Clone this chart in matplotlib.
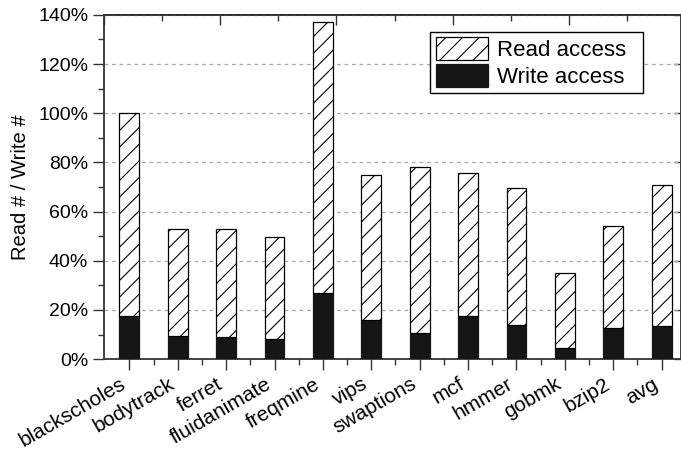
import numpy as np
import matplotlib
matplotlib.use("Agg")
import matplotlib.pyplot as plt
from matplotlib.ticker import PercentFormatter, MultipleLocator, FixedLocator
from matplotlib.patches import Patch

plt.rcParams['font.family'] = ['Liberation Sans', 'DejaVu Sans']
plt.rcParams['hatch.linewidth'] = 0.8

# values (percent)
benchmarks = ['blackscholes', 'bodytrack', 'ferret', 'fluidanimate', 'freqmine', 'vips',
              'swaptions', 'mcf', 'hmmer', 'gobmk', 'bzip2', 'avg']
write_pct = [17.5, 9.4, 8.8, 8.3, 26.7, 15.9, 10.7, 17.5, 13.8, 4.6, 12.7, 13.4]
read_pct = [82.5, 43.4, 44.2, 41.5, 110.2, 58.9, 67.3, 58.1, 55.7, 30.5, 41.6, 57.4]

x = np.arange(len(benchmarks))
w = 0.41

fig = plt.figure(figsize=(6.81, 4.5), dpi=100)
ax = fig.add_axes([0.153, 0.202, 0.847, 0.765])

ax.bar(x, write_pct, w, color='#151515', edgecolor='#151515', linewidth=0.9, zorder=3)
ax.bar(x, read_pct, w, bottom=write_pct, color='white', edgecolor='black',
       hatch='//', linewidth=0.9, zorder=3)

ax.set_xlim(-0.52, 11.40)
ax.set_ylim(0, 140)

ax.yaxis.set_major_locator(MultipleLocator(20))
ax.yaxis.set_minor_locator(MultipleLocator(10))
ax.yaxis.set_major_formatter(PercentFormatter(xmax=100, decimals=0))
ax.set_xticks(x)
ax.set_xticks(x[:-1] + 0.5, minor=True)
ax.set_xticklabels(benchmarks, rotation=30, ha='right', fontsize=15)

ax.tick_params(axis='both', which='major', direction='out', length=8, width=1,
               colors='#333333', labelcolor='black', right=False, top=False)
ax.tick_params(axis='y', which='major', labelsize=14)
ax.tick_params(axis='both', which='minor', direction='out', length=4, width=1,
               colors='#333333', right=False, top=False)
ax.tick_params(axis='x', which='major', pad=3)
ax.set_ylabel('Read # / Write #', fontsize=14.5, labelpad=6)

for s in ax.spines.values():
    s.set_linewidth(1.3)
    s.set_color('#333333')

ax.yaxis.grid(True, which='major', linestyle=(0, (3, 3)), color='#a8a8a8', linewidth=0.9, zorder=0)
ax.set_axisbelow(True)

# top axis (separate scale ticks, pointing in)
top = ax.secondary_xaxis('top')
top_pos = -0.52 + 1.2 * np.arange(0, 10)
top.xaxis.set_major_locator(FixedLocator(top_pos[::2]))
top.xaxis.set_minor_locator(FixedLocator(top_pos[1::2]))
top.tick_params(which='major', direction='in', length=7, width=1, colors='#333333', labeltop=False)
top.tick_params(which='minor', direction='in', length=4, width=1, colors='#333333')
top.spines['top'].set_linewidth(1.3)
top.spines['top'].set_color('#333333')

# right axis ticks pointing in
right = ax.secondary_yaxis('right')
right.yaxis.set_major_locator(MultipleLocator(20))
right.tick_params(direction='in', length=5, width=1, colors='#333333', labelright=False)

handles = [Patch(facecolor='white', edgecolor='black', hatch='//', linewidth=0.9),
           Patch(facecolor='#151515', edgecolor='#151515', linewidth=0.9)]
leg = ax.legend(handles, ['Read access', 'Write access'], loc='upper left',
                bbox_to_anchor=(0.565, 0.70, 0.369, 0.251), mode='expand',
                borderaxespad=0, fontsize=16,
                handlelength=2.35, handleheight=1.2, labelspacing=0.12,
                handletextpad=0.4, borderpad=0.25, fancybox=False, framealpha=1)
leg.get_frame().set_edgecolor('black')
leg.get_frame().set_linewidth(1.0)

fig.savefig('out.png', dpi=100)
